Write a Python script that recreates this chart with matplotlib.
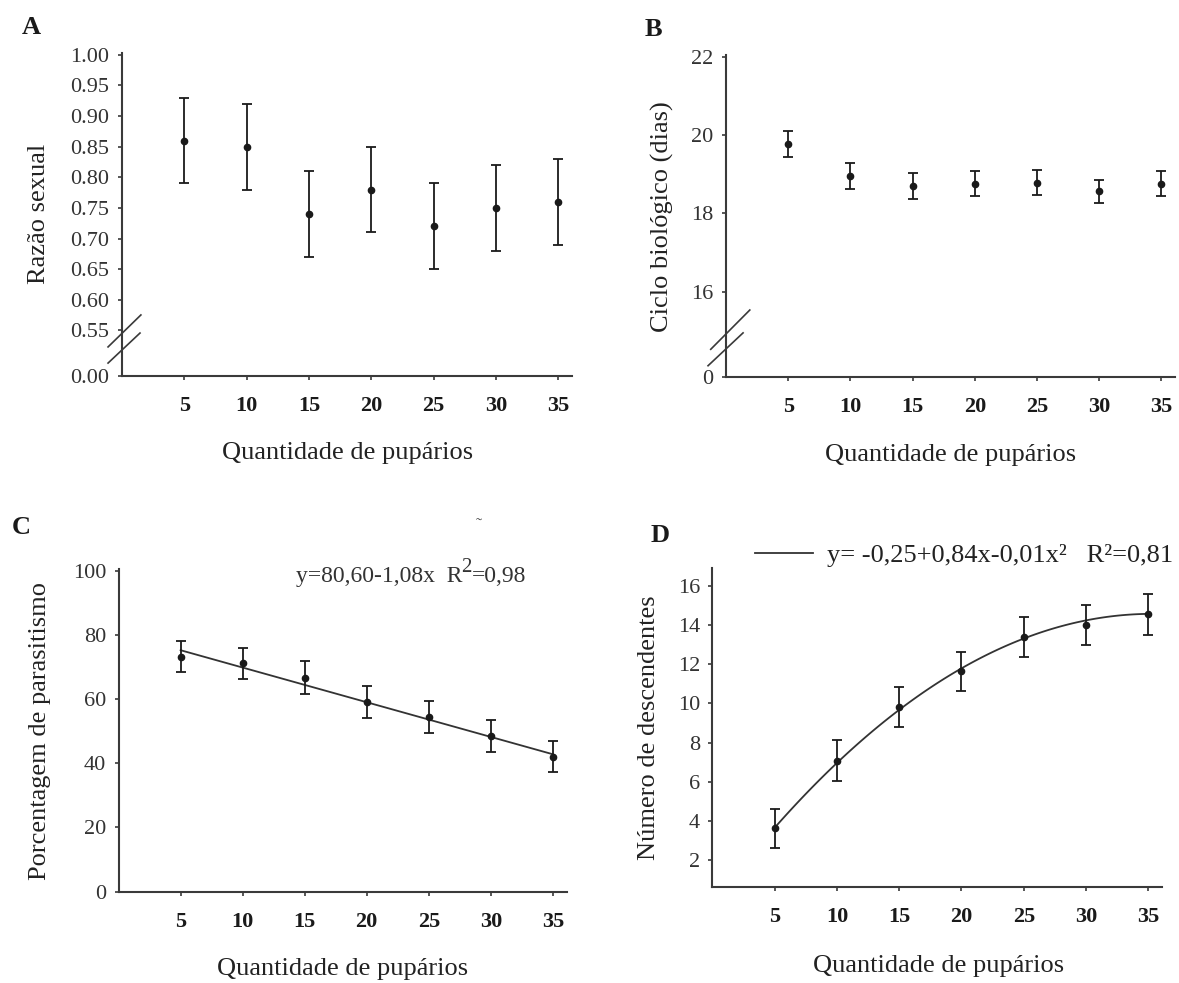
import numpy as np
import matplotlib.pyplot as plt

plt.rcParams['font.family'] = 'Liberation Serif'

pupae = [5, 10, 15, 20, 25, 30, 35]

sex_ratio = [0.86, 0.85, 0.74, 0.78, 0.72, 0.75, 0.76]
sex_ratio_err = [0.07, 0.07, 0.07, 0.07, 0.07, 0.07, 0.07]

cycle_days = [19.78, 18.95, 18.70, 18.76, 18.78, 18.56, 18.76]
cycle_err = [0.33, 0.33, 0.33, 0.32, 0.32, 0.30, 0.32]

parasitism = [73.2, 71.1, 66.6, 59.1, 54.5, 48.5, 42.0]
parasitism_err = [4.9, 4.9, 5.1, 5.1, 5.0, 4.9, 4.8]

offspring = [3.62, 7.07, 9.82, 11.63, 13.38, 14.02, 14.55]
offspring_err = [1.0, 1.05, 1.03, 1.02, 1.03, 1.03, 1.04]

# fitted models shown on the panels
lin_a, lin_b = 80.60, -1.08
quad_a, quad_b, quad_c = -0.25, 0.84, -0.0119

W, H = 1179, 983
fig = plt.figure(figsize=(W / 100, H / 100), dpi=100)

ink = '#1a1a1a'
axis_col = '#3a3a3a'


def box(left, top, right, bottom):
    return [left / W, 1 - bottom / H, (right - left) / W, (bottom - top) / H]


def style(ax, yticks, ylabels, ylim, ylab, ylab_xy, xlab_xy):
    ax.set_xlim(0, 36.1)
    ax.set_ylim(*ylim)
    for s in ['top', 'right']:
        ax.spines[s].set_visible(False)
    for s in ['left', 'bottom']:
        ax.spines[s].set_linewidth(1.5)
        ax.spines[s].set_color(axis_col)
    ax.set_xticks(pupae)
    ax.set_xticklabels([str(p) for p in pupae], fontweight='bold')
    ax.set_yticks(yticks)
    ax.set_yticklabels(ylabels)
    ax.tick_params(axis='x', direction='out', length=3, width=1.2,
                   color=axis_col, pad=11.5, labelsize=16, labelcolor=ink)
    ax.tick_params(axis='y', direction='out', length=3, width=1.2,
                   color=axis_col, pad=6, labelsize=16, labelcolor='#333333')
    ax.set_xlabel('Quantidade de pupários', fontsize=19, color='#222222',
                  va='center')
    ax.xaxis.set_label_coords(*xlab_xy)
    ax.set_ylabel(ylab, fontsize=19, color='#222222', va='center')
    ax.yaxis.set_label_coords(*ylab_xy)


def axis_break(ax, lines):
    for (x0, y0, x1, y1) in lines:
        ax.plot([x0, x1], [y0, y1], transform=ax.transAxes, color=axis_col,
                lw=1.2, clip_on=False)


def points(ax, y, err):
    ax.errorbar(pupae, y, yerr=err, fmt='o', color=ink, ecolor=ink,
                elinewidth=1.3, capsize=3.5, capthick=1.3, markersize=4.5,
                zorder=3)


# A
axA = fig.add_axes(box(122, 53, 572, 376))
points(axA, sex_ratio, sex_ratio_err)
a_ticks = [0.4755] + [0.55, 0.60, 0.65, 0.70, 0.75, 0.80, 0.85, 0.90, 0.95, 1.00]
a_labels = ['0.00'] + ['%.2f' % t for t in a_ticks[1:]]
style(axA, a_ticks, a_labels, (0.4755, 1.003), 'Razão sexual',
      (-0.185, 0.502), (0.502, -0.238))
axis_break(axA, [(-0.031, 0.090, 0.042, 0.189), (-0.031, 0.040, 0.040, 0.133)])

# B
axB = fig.add_axes(box(726, 55, 1175, 377))
points(axB, cycle_days, cycle_err)
b_ticks = [13.83, 16, 18, 20, 22]
b_labels = ['0', '16', '18', '20', '22']
style(axB, b_ticks, b_labels, (13.83, 22.04), 'Ciclo biológico (dias)',
      (-0.142, 0.497), (0.501, -0.242))
axis_break(axB, [(-0.034, 0.086, 0.053, 0.208), (-0.040, 0.035, 0.038, 0.137)])

# C
axC = fig.add_axes(box(118.6, 569.3, 566.5, 891.7))
xs = np.linspace(pupae[0], pupae[-1], 50)
axC.plot(xs, lin_a + lin_b * xs, color='#333333', lw=1.3, zorder=2)
points(axC, parasitism, parasitism_err)
style(axC, [0, 20, 40, 60, 80, 100], ['0', '20', '40', '60', '80', '100'],
      (0, 100.4), 'Porcentagem de parasitismo', (-0.175, 0.50), (0.499, -0.24))
t1 = axC.text(0.396, 0.962, 'y=80,60-1,08x  R', transform=axC.transAxes,
              fontsize=17, color='#333333', ha='left', va='baseline')
t2 = axC.annotate('2', xy=(1, 0), xycoords=t1, xytext=(-1, 7),
                  textcoords='offset points', fontsize=15, color='#333333',
                  ha='left', va='bottom')
axC.annotate('=0,98', xy=(1, 0), xycoords=(t2, t1), xytext=(0, 0),
             textcoords='offset points', fontsize=17, color='#333333',
             ha='left', va='bottom')
fig.text(479 / W, 1 - 527 / H, '˜', fontsize=13, color='#444444',
         ha='center', va='center')

# D
axD = fig.add_axes(box(712.4, 568.3, 1162, 886.7))
xs = np.linspace(pupae[0], pupae[-1], 100)
axD.plot(xs, quad_a + quad_b * xs + quad_c * xs ** 2, color='#333333', lw=1.3,
         zorder=2, label='y= -0,25+0,84x-0,01x²   R²=0,81')
points(axD, offspring, offspring_err)
style(axD, [2, 4, 6, 8, 10, 12, 14, 16],
      ['2', '4', '6', '8', '10', '12', '14', '16'],
      (0.64, 16.9), 'Número de descendentes', (-0.142, 0.50), (0.502, -0.249))
axD.legend(loc='center left', bbox_to_anchor=(755 / W, 1 - 555 / H),
           bbox_transform=fig.transFigure, frameon=False, fontsize=19,
           handlelength=2.2, handletextpad=0.53, borderpad=0, borderaxespad=0,
           labelcolor='#222222')

# panel letters
for lab, (px, py) in zip('ABCD', [(31, 28), (653, 30), (21, 527), (660, 535)]):
    fig.text(px / W, 1 - py / H, lab, fontsize=19, fontweight='bold',
             ha='center', va='center', color=ink)

fig.savefig('out.png', dpi=100)
